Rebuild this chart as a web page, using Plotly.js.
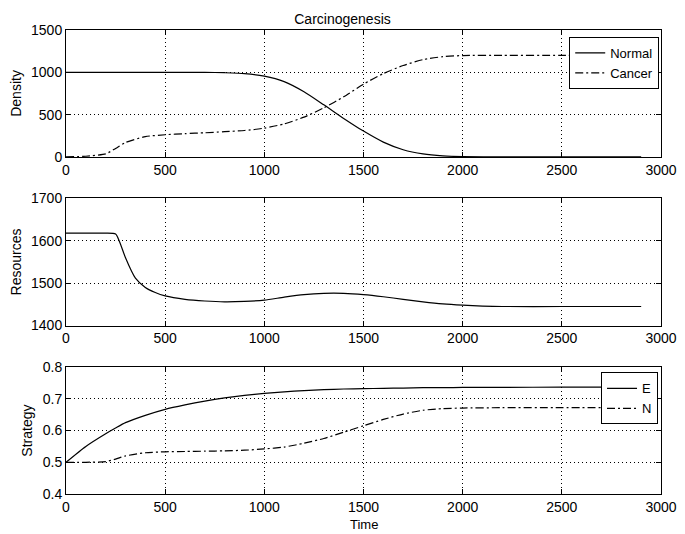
<!DOCTYPE html>
<html>
<head>
<meta charset="utf-8">
<script src="https://cdn.plot.ly/plotly-3.0.1.min.js"></script>
<style>html,body{margin:0;padding:0;background:#fff;}#chart{width:685px;height:534px;}</style>
</head>
<body>
<div id="chart"></div>
<script>
// Top panel: Density
const timeDensity = [0, 100, 200, 250, 300, 400, 500, 600, 700, 800, 900, 1000, 1100, 1200, 1300, 1400, 1500, 1600, 1700, 1800, 1900, 2000, 2200, 2500, 2900];
const normalDensity = [1000, 1000, 1000, 1000, 1000, 1000, 1000, 1000, 1000, 995, 985, 955, 890, 770, 615, 455, 305, 175, 85, 35, 12, 3, 0, 0, 0];
const cancerDensity = [0, 8, 35, 100, 170, 240, 262, 275, 285, 298, 312, 340, 390, 470, 580, 710, 860, 985, 1080, 1150, 1185, 1198, 1200, 1200, 1200];

// Middle panel: Resources
const timeResources = [0, 100, 200, 250, 270, 300, 350, 400, 450, 500, 600, 700, 800, 900, 1000, 1100, 1200, 1300, 1400, 1500, 1600, 1700, 1800, 1900, 2000, 2100, 2200, 2500, 2900];
const resources = [1618, 1618, 1618, 1616, 1598, 1560, 1512, 1490, 1478, 1470, 1462, 1458, 1456, 1457, 1460, 1467, 1473, 1476, 1476, 1473, 1468, 1462, 1456, 1451, 1448, 1446, 1445, 1445, 1445];

// Bottom panel: Strategy
const timeStrategy = [0, 100, 200, 250, 300, 400, 500, 600, 700, 800, 900, 1000, 1100, 1200, 1300, 1400, 1500, 1600, 1700, 1800, 1900, 2000, 2200, 2500, 2900];
const strategyE = [0.5, 0.55, 0.59, 0.608, 0.625, 0.648, 0.667, 0.681, 0.693, 0.703, 0.711, 0.717, 0.722, 0.726, 0.729, 0.731, 0.732, 0.733, 0.734, 0.735, 0.735, 0.736, 0.736, 0.737, 0.737];
const strategyN = [0.5, 0.5, 0.502, 0.51, 0.52, 0.53, 0.533, 0.534, 0.535, 0.536, 0.538, 0.542, 0.548, 0.56, 0.575, 0.595, 0.615, 0.635, 0.652, 0.664, 0.669, 0.671, 0.672, 0.672, 0.672];

const xTicks = [0, 500, 1000, 1500, 2000, 2500, 3000];

const lineSolid = {color: '#000', width: 1.2, dash: 'solid', shape: 'spline', smoothing: 0.6};
const lineDashDot = {color: '#000', width: 1.2, dash: '8px,3px,2px,3px', shape: 'spline', smoothing: 0.6};

const traces = [
  {x: timeDensity, y: normalDensity, name: 'Normal', type: 'scatter', mode: 'lines', line: lineSolid, xaxis: 'x', yaxis: 'y', legend: 'legend'},
  {x: timeDensity, y: cancerDensity, name: 'Cancer', type: 'scatter', mode: 'lines', line: lineDashDot, xaxis: 'x', yaxis: 'y', legend: 'legend'},
  {x: timeResources, y: resources, name: 'Resources', type: 'scatter', mode: 'lines', line: lineSolid, xaxis: 'x2', yaxis: 'y2', showlegend: false},
  {x: timeStrategy, y: strategyE, name: 'E', type: 'scatter', mode: 'lines', line: lineSolid, xaxis: 'x3', yaxis: 'y3', legend: 'legend2'},
  {x: timeStrategy, y: strategyN, name: 'N', type: 'scatter', mode: 'lines', line: lineDashDot, xaxis: 'x3', yaxis: 'y3', legend: 'legend2'}
];

const font = {family: 'Liberation Sans, Arial, sans-serif', size: 14, color: '#000'};
const legendFont = {family: 'Liberation Sans, Arial, sans-serif', size: 13, color: '#000'};

function xAxis(anchor) {
  return {
    anchor: anchor, domain: [0, 1], range: [0, 3000], tickvals: xTicks, ticktext: xTicks.map(String),
    showline: true, linecolor: '#000', linewidth: 1, mirror: 'allticks',
    ticks: 'inside', ticklen: 5, tickcolor: '#000',
    showgrid: true, gridcolor: '#000', griddash: '1px,3px', gridwidth: 1,
    zeroline: false, tickfont: font
  };
}
function yAxis(anchor, domain, range, tickvals, ticktext, title) {
  return {
    anchor: anchor, domain: domain, range: range, tickvals: tickvals, ticktext: ticktext,
    showline: true, linecolor: '#000', linewidth: 1, mirror: 'allticks',
    ticks: 'inside', ticklen: 5, tickcolor: '#000',
    showgrid: true, gridcolor: '#000', griddash: '1px,3px', gridwidth: 1,
    zeroline: false, tickfont: font,
    title: {text: title, font: font, standoff: 6}
  };
}

const layout = {
  width: 685, height: 534,
  margin: {l: 66, r: 24, t: 30, b: 40},
  paper_bgcolor: '#fff', plot_bgcolor: '#fff',
  font: font,
  title: {text: 'Carcinogenesis', font: {family: font.family, size: 14, color: '#000'}, x: 0.5, xanchor: 'center', y: 0.965, yanchor: 'middle'},
  xaxis: xAxis('y'),
  yaxis: yAxis('x', [0.7265, 1], [0, 1500], [0, 500, 1000, 1500], ['0', '500', '1000', '1500'], 'Density'),
  xaxis2: xAxis('y2'),
  yaxis2: yAxis('x2', [0.363, 0.637], [1400, 1700], [1400, 1500, 1600, 1700], ['1400', '1500', '1600', '1700'], 'Resources'),
  xaxis3: xAxis('y3'),
  yaxis3: yAxis('x3', [0, 0.2735], [0.4, 0.8], [0.4, 0.5, 0.6, 0.7, 0.8], ['0.4', '0.5', '0.6', '0.7', '0.8'], 'Strategy'),
  annotations: [
    {text: 'Time', xref: 'paper', yref: 'paper', x: 0.5, y: -40 / 464, xanchor: 'center', yanchor: 'bottom', showarrow: false,
     font: {family: font.family, size: 13, color: '#000'}}
  ],
  legend: {x: 0.997, xanchor: 'right', y: 0.985, yanchor: 'top', bgcolor: '#fff', bordercolor: '#000', borderwidth: 1,
    font: legendFont, tracegroupgap: 0, itemwidth: 30},
  legend2: {x: 0.995, xanchor: 'right', y: 0.262, yanchor: 'top', bgcolor: '#fff', bordercolor: '#000', borderwidth: 1,
    font: legendFont, tracegroupgap: 0, itemwidth: 30},
  showlegend: true
};

Plotly.newPlot('chart', traces, layout, {displayModeBar: false, staticPlot: true});
</script>
</body>
</html>
